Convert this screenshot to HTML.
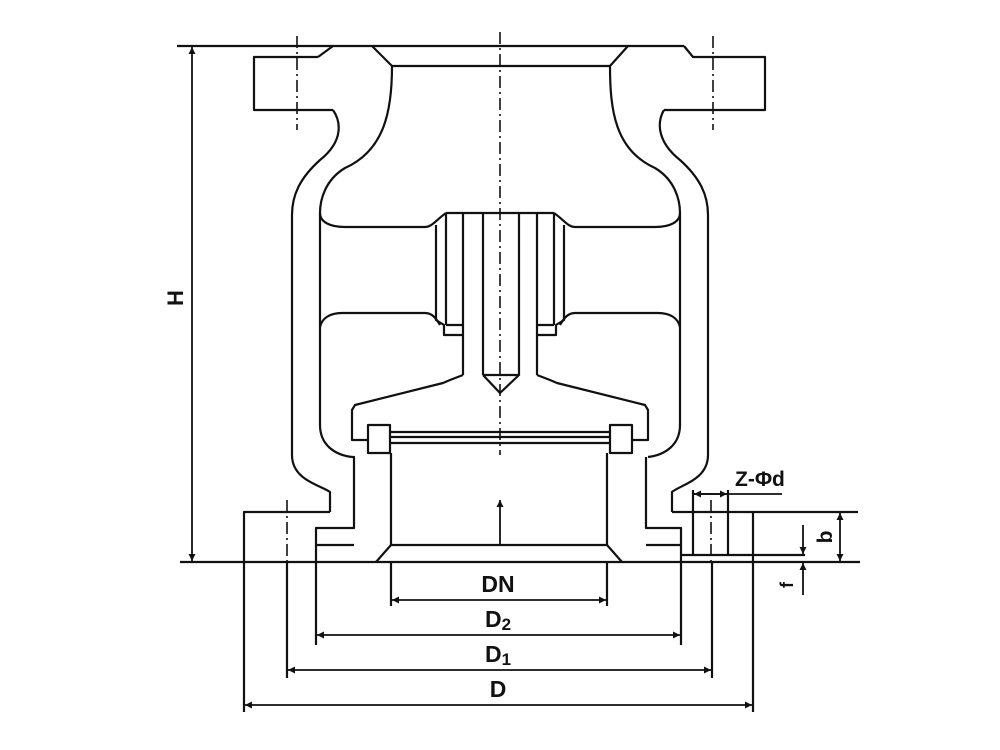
<!DOCTYPE html>
<html><head><meta charset="utf-8"><style>
html,body{margin:0;padding:0;background:#fff;width:1000px;height:750px;overflow:hidden}
svg{display:block}
text{font-family:"Liberation Sans",sans-serif;font-weight:bold;fill:#111}
</style></head><body>
<svg width="1000" height="750" viewBox="0 0 1000 750" xmlns="http://www.w3.org/2000/svg">
<defs>
<marker id="a" viewBox="0 0 10 10" refX="10" refY="5" markerWidth="14" markerHeight="7" orient="auto-start-reverse" markerUnits="userSpaceOnUse"><path d="M0,0 L10,5 L0,10 z" fill="#111"/></marker>
</defs>
<g fill="none" stroke="#111" stroke-width="2.2" stroke-linejoin="round">
<line x1="177" y1="46" x2="684" y2="46"/>
<path d="M318,57 L254,57 L254,110 L333,110"/>
<path d="M318,57 L333,46"/>
<path d="M684,46 L693,57 L765,57 L765,110 L664,110"/>
<line x1="392" y1="66" x2="610" y2="66"/>
<path d="M372,46 L392,66"/><path d="M628,46 L610,66"/>
<path d="M392,66 C392,110 385,150 345,168 C325,180 320,200 320,213 C320,222 330,227 345,227 L425,227 C432,227 436,220 446,213"/>
<path d="M610,66 C610,110 615,150 655,168 C675,180 680,200 680,213 C680,222 670,227 655,227 L575,227 C568,227 564,220 554,213"/>
<path d="M333,110 C340,120 345,140 320,160 C300,178 292,195 292,215 L292,455 C292,480 320,485 330,492 L330,512"/>
<path d="M664,110 C658,120 655,140 680,160 C700,178 708,195 708,215 L708,455 C708,480 680,485 672,492 L672,512"/>
<path d="M320,213 L320,425 C320,445 335,455 352,457"/>
<path d="M680,213 L680,425 C680,445 665,455 648,457"/>
<path d="M320,327 C322,318 330,313 342,313 L425,313 C432,313 436,318 440,325"/>
<path d="M680,327 C678,318 670,313 658,313 L575,313 C568,313 564,318 560,325"/>
<line x1="446" y1="213" x2="554" y2="213"/>
<path d="M436,225 L436,320 L444,325 L444,335 L463,335"/>
<path d="M564,225 L564,320 L556,325 L556,335 L537,335"/>
<line x1="446" y1="213" x2="446" y2="325"/><line x1="446" y1="325" x2="463" y2="325"/>
<line x1="554" y1="213" x2="554" y2="325"/><line x1="554" y1="325" x2="537" y2="325"/>
<line x1="463" y1="213" x2="463" y2="375"/>
<line x1="537" y1="213" x2="537" y2="375"/>
<line x1="483" y1="213" x2="483" y2="375"/>
<line x1="519" y1="213" x2="519" y2="375"/>
<path d="M483,375 L500,393 L519,375 L483,375"/>
<path d="M463,375 L450,380 L443,383 L355,405 L352,410 L352,440 L368,440"/>
<path d="M537,375 L550,380 L557,383 L645,405 L648,410 L648,440 L632,440"/>
<rect x="368" y="425" width="22" height="28"/>
<rect x="610" y="425" width="22" height="28"/>
<line x1="390" y1="432" x2="610" y2="432"/>
<line x1="390" y1="437" x2="610" y2="437"/>
<line x1="390" y1="443" x2="610" y2="443"/>
<path d="M352,457 L354,457 L354,528 L316,528 L316,562"/>
<line x1="316" y1="545" x2="354" y2="545"/>
<path d="M646,457 L646,528 L681,528 L681,562"/>
<line x1="646" y1="545" x2="681" y2="545"/>
<line x1="391" y1="453" x2="391" y2="545"/>
<line x1="607" y1="453" x2="607" y2="545"/>
<path d="M376,562 L391,545 L607,545 L622,562"/>
<path d="M330,512 L244,512 L244,562"/>
<path d="M672,512 L858,512"/>
<line x1="753" y1="512" x2="753" y2="562"/>
<line x1="180" y1="562" x2="860" y2="562"/>
<line x1="681" y1="555" x2="805" y2="555"/>
<line x1="693" y1="490" x2="693" y2="555"/>
<line x1="728" y1="490" x2="728" y2="555"/>
<line x1="391" y1="562" x2="391" y2="606"/><line x1="607" y1="562" x2="607" y2="606"/>
<line x1="316" y1="562" x2="316" y2="645"/><line x1="681" y1="562" x2="681" y2="645"/>
<line x1="287" y1="562" x2="287" y2="678"/><line x1="712" y1="562" x2="712" y2="678"/>
<line x1="244" y1="562" x2="244" y2="712"/><line x1="753" y1="562" x2="753" y2="712"/>
</g>
<g fill="none" stroke="#111" stroke-width="1.6" stroke-dasharray="12,4,2,4">
<line x1="500" y1="32" x2="500" y2="455"/>
<line x1="297" y1="36" x2="297" y2="130"/>
<line x1="713" y1="36" x2="713" y2="130"/>
<line x1="287" y1="500" x2="287" y2="562"/>
<line x1="711" y1="500" x2="711" y2="562"/>
</g>
<g fill="none" stroke="#111" stroke-width="1.8">
<line x1="500" y1="545" x2="500" y2="500" marker-end="url(#a)"/>
<line x1="192" y1="300" x2="192" y2="47" marker-end="url(#a)"/>
<line x1="192" y1="300" x2="192" y2="561" marker-end="url(#a)"/>
<line x1="498" y1="600" x2="392" y2="600" marker-end="url(#a)"/><line x1="498" y1="600" x2="606" y2="600" marker-end="url(#a)"/>
<line x1="498" y1="635" x2="317" y2="635" marker-end="url(#a)"/><line x1="498" y1="635" x2="680" y2="635" marker-end="url(#a)"/>
<line x1="498" y1="670" x2="288" y2="670" marker-end="url(#a)"/><line x1="498" y1="670" x2="711" y2="670" marker-end="url(#a)"/>
<line x1="498" y1="705" x2="245" y2="705" marker-end="url(#a)"/><line x1="498" y1="705" x2="752" y2="705" marker-end="url(#a)"/>
<line x1="693" y1="494" x2="782" y2="494"/>
<line x1="710" y1="494" x2="694" y2="494" marker-end="url(#a)"/><line x1="710" y1="494" x2="727" y2="494" marker-end="url(#a)"/>
<line x1="840" y1="537" x2="840" y2="513" marker-end="url(#a)"/><line x1="840" y1="537" x2="840" y2="561" marker-end="url(#a)"/>
<line x1="803" y1="525" x2="803" y2="554" marker-end="url(#a)"/>
<line x1="803" y1="595" x2="803" y2="563" marker-end="url(#a)"/>
</g>
<text x="498" y="592" font-size="23" text-anchor="middle">DN</text>
<text x="498" y="627" font-size="23" text-anchor="middle">D<tspan font-size="17" dy="3">2</tspan></text>
<text x="498" y="662" font-size="23" text-anchor="middle">D<tspan font-size="17" dy="3">1</tspan></text>
<text x="498" y="697" font-size="23" text-anchor="middle">D</text>
<text x="735" y="486" font-size="21">Z-Φd</text>
<text transform="translate(183,298) rotate(-90)" font-size="22" text-anchor="middle">H</text>
<text transform="translate(832,537) rotate(-90)" font-size="21" text-anchor="middle">b</text>
<text transform="translate(793,585) rotate(-90)" font-size="18" text-anchor="middle">f</text>
</svg>
</body></html>
